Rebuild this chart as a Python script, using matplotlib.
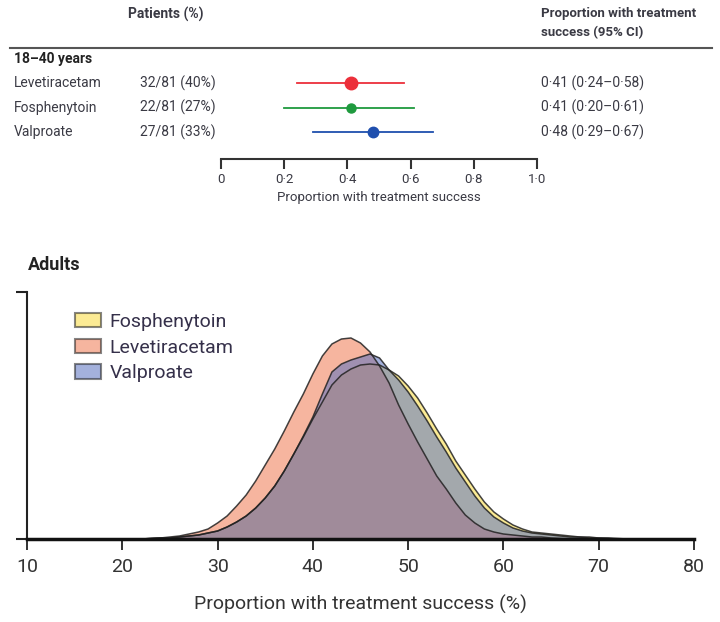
import numpy as np
import matplotlib.pyplot as plt
from matplotlib.patches import Patch
from matplotlib.lines import Line2D
from matplotlib.transforms import blended_transform_factory

plt.rcParams['font.family'] = ['DejaVu Sans Condensed', 'Roboto', 'DejaVu Sans']

# ---- forest plot data (18–40 years) ----
drugs = ['Levetiracetam', 'Fosphenytoin', 'Valproate']
patients = ['32/81 (40%)', '22/81 (27%)', '27/81 (33%)']
estimate = [0.41, 0.41, 0.48]
ci_low = [0.24, 0.20, 0.29]
ci_high = [0.58, 0.61, 0.67]
ci_text = ['0·41 (0·24–0·58)', '0·41 (0·20–0·61)', '0·48 (0·29–0·67)']
forest_ticks = [0, 0.2, 0.4, 0.6, 0.8, 1.0]
forest_ticklabels = ['0', '0·2', '0·4', '0·6', '0·8', '1·0']

# ---- density data (adults) ----
success_pct = list(range(22, 75))
dens_fos = [0, 0.5, 1, 1, 2, 3, 4, 6, 8, 12, 17, 23, 31, 41, 53, 68, 85, 102, 120, 137,
            154, 164, 170, 174, 175, 174, 169, 163, 153, 141, 126, 110, 95, 78, 64, 50,
            37, 27, 20, 14, 10, 7, 6, 5, 4, 3, 2, 2, 1, 1, 0.5, 0, 0]
dens_lev = [0, 0.5, 1, 2, 3, 5, 7, 10, 16, 23, 33, 44, 58, 74, 90, 108, 127, 145, 165, 183,
            195, 200, 201, 196, 187, 173, 156, 134, 115, 97, 80, 63, 50, 36, 24, 16,
            10, 7, 5, 4, 3, 2, 2, 1, 0.5, 0, 0, 0, 0, 0, 0, 0, 0]
dens_val = [0, 0.5, 1, 1, 2, 3, 4, 6, 8, 12, 17, 23, 31, 41, 53, 68, 85, 103, 122, 145,
            167, 175, 179, 182, 185, 181, 169, 159, 147, 133, 118, 102, 87, 71, 57, 43,
            31, 22, 16, 11, 8, 6, 5, 4, 3, 2, 2, 1, 1, 0.5, 0, 0, 0]

forest_colors = ['#ec2f3a', '#1f9a3e', '#1f4fae']
dot_sizes = [9, 6.5, 7.5]
fill_colors = {'Fosphenytoin': '#fadc3c', 'Levetiracetam': '#f07850', 'Valproate': '#5a72c0'}
text_col = '#3a3a44'

W, H = 720, 622
fig = plt.figure(figsize=(W / 100, H / 100), dpi=100)


def fx(x):
    return x / W


def fy(y):
    return 1 - y / H


# ---------- top: forest plot ----------
ax1 = fig.add_axes([fx(221), fy(159), 316 / W, 100 / H])
rows = np.arange(len(drugs))
ax1.set_xlim(0, 1)
ax1.set_ylim(3.10, -0.98)
for i in rows:
    ax1.plot([ci_low[i], ci_high[i]], [i, i], color=forest_colors[i], lw=1.3)
    ax1.plot(estimate[i], i, 'o', color=forest_colors[i], ms=dot_sizes[i])
for s in ['left', 'right', 'top']:
    ax1.spines[s].set_visible(False)
ax1.spines['bottom'].set_bounds(0, 1)
ax1.spines['bottom'].set_linewidth(1.5)
ax1.spines['bottom'].set_color('#333333')
ax1.set_yticks([])
ax1.set_xticks(forest_ticks)
ax1.set_xticklabels(forest_ticklabels)
ax1.tick_params(axis='x', direction='out', length=7, width=1.5, color='#333333',
                labelsize=9.5, labelcolor=text_col, pad=3)
ax1.set_xlabel('Proportion with treatment success', fontsize=9.5, color=text_col, labelpad=4)

tr = blended_transform_factory(fig.transFigure, ax1.transData)
for i in rows:
    ax1.text(fx(14), i, drugs[i], transform=tr, fontsize=10, color=text_col, va='center')
    ax1.text(fx(140), i, patients[i], transform=tr, fontsize=10, color=text_col, va='center')
    ax1.text(fx(541), i, ci_text[i], transform=tr, fontsize=10, color=text_col, va='center')
ax1.text(fx(14), -0.98, '18–40 years', transform=tr, fontsize=10, color='#222222',
         fontweight='bold', va='center')

fig.text(fx(128), fy(14), 'Patients (%)', fontsize=10, fontweight='bold', color=text_col, va='center')
fig.text(fx(541), fy(23), 'Proportion with treatment\nsuccess (95% CI)', fontsize=9.5,
         fontweight='bold', color=text_col, va='center', linespacing=1.5)
fig.add_artist(Line2D([fx(10), fx(712)], [fy(48), fy(48)], color='#555555', lw=1.5))

# ---------- bottom: density ----------
ax2 = fig.add_axes([fx(27), fy(539), 667 / W, 247 / H])
order = [('Fosphenytoin', dens_fos), ('Levetiracetam', dens_lev), ('Valproate', dens_val)]
for name, dens in order:
    ax2.fill_between(success_pct, 0, dens, facecolor=fill_colors[name], alpha=0.55,
                     edgecolor='none')
    ax2.plot(success_pct, dens, color='#222222', lw=1.1, alpha=0.85)

ax2.set_xlim(10, 80)
ax2.set_ylim(0, 247)
ax2.spines['top'].set_visible(False)
ax2.spines['right'].set_visible(False)
ax2.spines['bottom'].set_linewidth(2.5)
ax2.spines['left'].set_linewidth(1.5)
ax2.spines['left'].set_color('#222222')
ax2.spines['bottom'].set_color('#111111')
ax2.set_yticks([0, 247])
ax2.set_yticklabels([])
ax2.tick_params(axis='y', direction='out', length=8, width=1.5, color='#222222')
ax2.set_xticks(range(10, 81, 10))
ax2.tick_params(axis='x', direction='out', length=8, width=1.3, color='#222222',
                labelsize=14, labelcolor='#333333', pad=6)
ax2.set_xlabel('Proportion with treatment success (%)', fontsize=14, color='#333333', labelpad=13)

handles = [Patch(facecolor=fill_colors[n], alpha=0.55, edgecolor='#222222', lw=1.5, label=n)
           for n, _ in order]
leg = ax2.legend(handles=handles, loc='upper left', bbox_to_anchor=(0.058, 0.955), frameon=False,
                 fontsize=14, handlelength=1.3, handleheight=0.75, handletextpad=0.45,
                 labelspacing=0.4, borderpad=0)
for t in leg.get_texts():
    t.set_color('#35304a')

fig.text(fx(28), fy(265), 'Adults', fontsize=13, fontweight='bold', color='#222222', va='center')

fig.savefig('out.png', dpi=100)
